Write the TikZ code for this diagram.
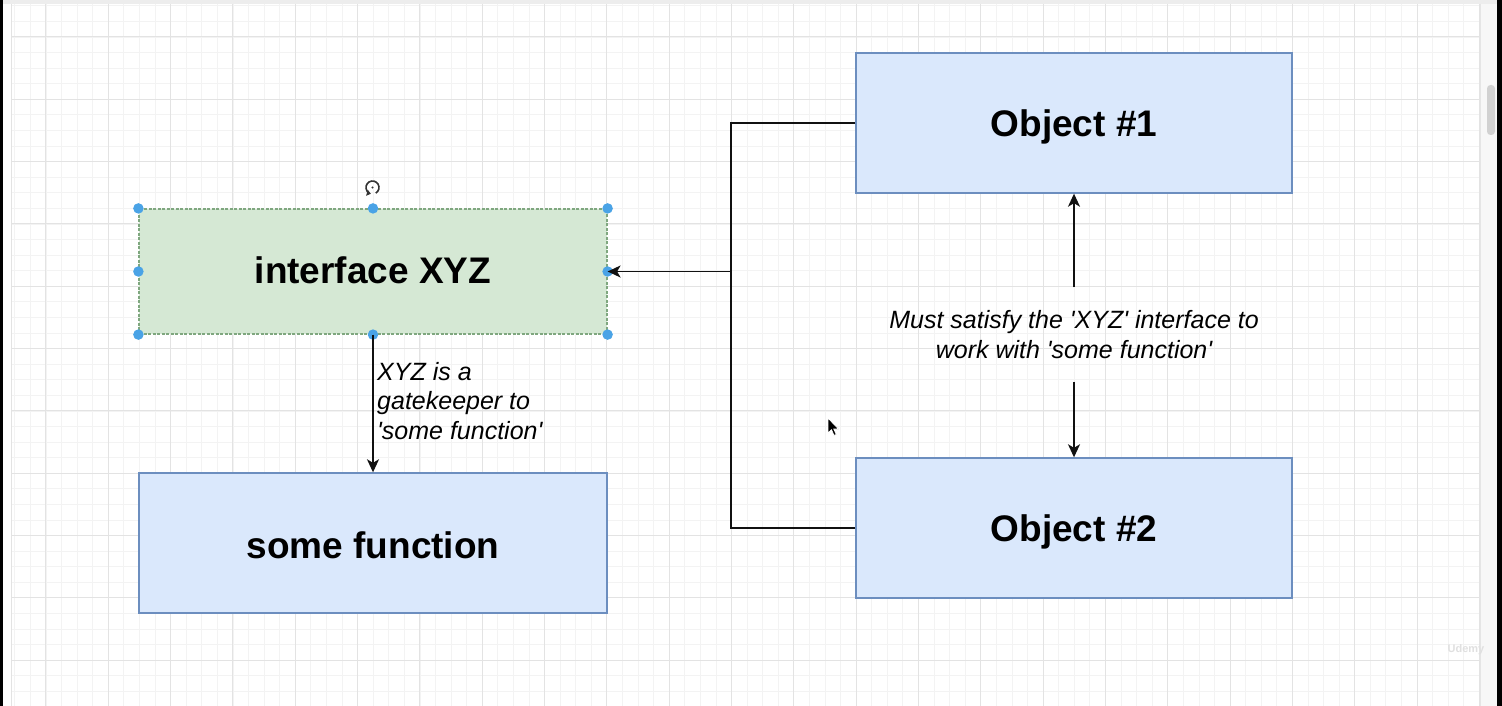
\documentclass[tikz,border=0pt]{standalone}
\usepackage{fontspec}
\setmainfont{Liberation Sans}
\usetikzlibrary{arrows.meta}
\definecolor{bluefill}{HTML}{DAE8FC}
\definecolor{blueline}{HTML}{6C8EBF}
\definecolor{greenfill}{HTML}{D5E8D4}
\definecolor{greenline}{HTML}{7FA77F}
\definecolor{handle}{HTML}{4AA3E6}
\definecolor{gridminor}{HTML}{F3F3F3}
\definecolor{gridmajor}{HTML}{E3E3E3}
\definecolor{ink}{HTML}{111111}
\newcommand{\sq}{\textquotesingle}
\begin{document}
\begin{tikzpicture}[x=1pt,y=-1pt,
  box/.style={draw=blueline, fill=bluefill, line width=1.4pt, minimum width=436pt, minimum height=140pt, inner sep=0pt, text depth=0pt, text height=27.4pt, font=\fontsize{37}{44}\selectfont\bfseries},
  ifacebox/.style={draw=greenline, fill=greenfill, line width=1.2pt, dash pattern=on 3pt off 1.5pt, minimum width=468pt, minimum height=125pt, inner sep=0pt, text depth=0pt, text height=23.6pt, font=\fontsize{37}{44}\selectfont\bfseries},
  lbl/.style={font=\fontsize{25}{29.5}\selectfont\itshape, inner sep=0pt},
  conn/.style={draw=ink, line width=1.6pt},
  arr/.style={conn, -{Stealth[length=13pt,width=12pt,inset=3.5pt]}},
  hdl/.style={circle, fill=handle, minimum size=10.5pt, inner sep=0pt},
  minor/.style={draw=gridminor, line width=0.8pt},
  major/.style={draw=gridmajor, line width=1pt}
]
\useasboundingbox (0,0) rectangle (1502,706);
% background
\fill[white] (0,0) rectangle (1502,706);
% grid
\foreach \i in {0,...,94} {\draw[minor] ({14.82+15.58*\i},4) -- (({14.82+15.58*\i},706);}
\foreach \j in {0,...,44} {\draw[minor] (11,{5.84+15.58*\j}) -- (1480,{5.84+15.58*\j});}
\foreach \i in {2,6,...,94} {\draw[major] ({14.82+15.58*\i},4) -- ({14.82+15.58*\i},706);}
\foreach \j in {2,6,...,44} {\draw[major] (11,{5.84+15.58*\j}) -- (1480,{5.84+15.58*\j});}
\draw[gridmajor, line width=1pt] (11,4) -- (11,706);
% window frame
\fill[black!7] (0,0) rectangle (1502,4);
\fill[black] (0,0) rectangle (3,706);
\fill[black!3] (1480,4) rectangle (1497,706);
\draw[black!10, line width=0.8pt] (1480,4) -- (1480,706);
\fill[black!18, rounded corners=3.5pt] (1487,85) rectangle (1495,135);
\fill[black] (1497,0) rectangle (1502,706);

% nodes
\node[ifacebox] (ixyz) at (373,271.5) {interface XYZ};
\node[box, minimum width=468pt, text height=30.6pt] (sf) at (373,543) {some function};
\node[box] (o1) at (1074,123) {Object \#1};
\node[box] (o2) at (1074,528) {Object \#2};

% selection handles
\foreach \a in {north west,north,north east,west,east,south west,south,south east}
  {\node[hdl] at (ixyz.\a) {};}
% rotate icon
\coordinate (rot) at (372.5,187.5);
\draw[black!80, line width=1.6pt, -{Triangle[length=4pt,width=6pt]}] ([shift={(60:6.5)}]rot) arc[start angle=60, end angle=-255, radius=6.5];
\fill[black!80] (rot) circle (1.1pt);

% connectors
\coordinate (j) at (731,271.5);
\draw[conn] (o1.west) -| (j);
\draw[conn] (o2.west) -| (j);
\draw[arr] (j) -- (ixyz.east);
\draw[arr] (ixyz.south) -- (sf.north);

\node[lbl, anchor=west, align=left] (gk) at (377,401) {XYZ is a\\gatekeeper to\\\sq some function\sq};

\node[lbl, align=center, inner ysep=23pt] (must) at (1074,334.5) {Must satisfy the \sq XYZ\sq\ interface to\\work with \sq some function\sq};
\draw[arr] (must.north) -- (o1.south);
\draw[arr] (must.south) -- (o2.north);

% mouse cursor
\filldraw[fill=black, draw=white, line width=0.8pt] (828,418) -- (828,433) -- (831.5,429.8) -- (834,435.5) -- (836.3,434.5) -- (833.8,429) -- (838.5,429) -- cycle;

% watermark
\node[font=\fontsize{11}{13}\selectfont\bfseries, text=black!12, inner sep=0pt] (wm) at (1466,650) {Udemy};
\end{tikzpicture}
\end{document}
